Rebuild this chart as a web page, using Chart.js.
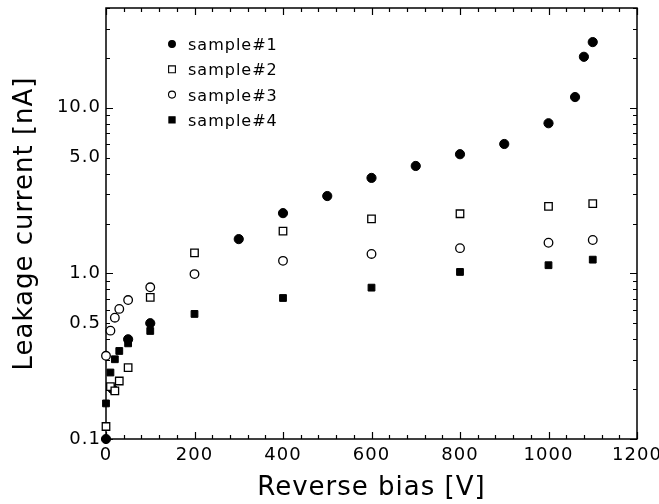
<!DOCTYPE html>
<html>
<head>
<meta charset="utf-8">
<script src="https://cdn.jsdelivr.net/npm/chart.js@4"></script>
<style>
    html, body { margin: 0; padding: 0; background: #fff; }
</style>
</head>
<body>
<canvas id="chart" width="659" height="504"></canvas>
<script>
// Values
const sample1Bias = [0, 15, 50, 100, 300, 400, 500, 600, 700, 800, 900, 1000, 1060, 1080, 1100];
const sample1Current = [0.10, 0.20, 0.40, 0.50, 1.61, 2.31, 2.93, 3.77, 4.45, 5.24, 6.04, 8.06, 11.6, 20.3, 24.9];
const bias = [0, 10, 20, 30, 50, 100, 200, 400, 600, 800, 1000, 1100];
const sample2Current = [0.119, 0.207, 0.195, 0.224, 0.270, 0.717, 1.33, 1.80, 2.13, 2.29, 2.54, 2.64];
const sample3Current = [0.318, 0.451, 0.540, 0.610, 0.690, 0.824, 0.99, 1.19, 1.31, 1.42, 1.53, 1.59];
const sample4Current = [0.164, 0.252, 0.303, 0.340, 0.378, 0.449, 0.569, 0.71, 0.82, 1.02, 1.12, 1.21];
const sampleNames = ['sample#1', 'sample#2', 'sample#3', 'sample#4'];
const xTickValues = [0, 200, 400, 600, 800, 1000, 1200];
const yTickValues = [0.1, 0.5, 1, 5, 10];
const xMinorStep = 40;

const FONT = '"DejaVu Sans", sans-serif';

function toPoints(xs, ys) {
    return xs.map((x, i) => ({ x: x, y: ys[i] }));
}

// frame with inward ticks on all four sides
const frameTicks = {
    id: 'frameTicks',
    beforeDatasetsDraw(chart) {
        const { ctx, chartArea: a, scales: { x, y } } = chart;
        ctx.save();
        ctx.strokeStyle = '#000';
        ctx.lineWidth = 1.5;
        ctx.strokeRect(a.left, a.top, a.right - a.left, a.bottom - a.top);
        ctx.lineWidth = 1.2;
        ctx.beginPath();
        for (let v = x.min; v <= x.max; v += xMinorStep) {
            const px = Math.round(x.getPixelForValue(v)) + 0.5;
            const len = v % 200 === 0 ? 7 : 4;
            ctx.moveTo(px, a.bottom); ctx.lineTo(px, a.bottom - len);
            ctx.moveTo(px, a.top); ctx.lineTo(px, a.top + len);
        }
        for (let d = 0.1; d < 100; d *= 10) {
            for (let m = 1; m <= 9; m++) {
                const v = m * d;
                if (v > y.max * 1.0001) continue;
                const py = Math.round(y.getPixelForValue(v)) + 0.5;
                const len = m === 1 ? 7 : 4;
                ctx.moveTo(a.left, py); ctx.lineTo(a.left + len, py);
                ctx.moveTo(a.right, py); ctx.lineTo(a.right - len, py);
            }
        }
        ctx.stroke();
        ctx.restore();
    }
};

// legend drawn inside the plot, top left
const insideLegend = {
    id: 'insideLegend',
    afterDraw(chart) {
        const { ctx, chartArea: a } = chart;
        ctx.save();
        ctx.font = '16px ' + FONT;
        ctx.textBaseline = 'middle';
        ctx.fillStyle = '#000';
        ctx.strokeStyle = '#000';
        ctx.lineWidth = 1.1;
        chart.data.datasets.forEach((ds, i) => {
            const mx = a.left + 66;
            const my = a.top + 36 + i * 25.3;
            ctx.beginPath();
            if (ds.pointStyle === 'circle') {
                ctx.arc(mx, my, ds.legendSize / 2, 0, Math.PI * 2);
            } else {
                const s = ds.legendSize;
                ctx.rect(mx - s / 2, my - s / 2, s, s);
            }
            ctx.fillStyle = ds.pointBackgroundColor;
            ctx.fill();
            ctx.stroke();
            ctx.fillStyle = '#000';
            ctx.fillText(ds.label, a.left + 82, my + 2);
        });
        ctx.restore();
    }
};

const spacing = {
    id: 'spacing',
    beforeDraw(chart) {
        chart.ctx.letterSpacing = '1px';
    }
};

new Chart(document.getElementById('chart'), {
    type: 'scatter',
    data: {
        datasets: [
            {
                label: sampleNames[0],
                data: toPoints(sample1Bias, sample1Current),
                pointStyle: 'circle', pointRadius: 4.6, legendSize: 6.8,
                pointBackgroundColor: '#000', pointBorderColor: '#000', pointBorderWidth: 1,
                clip: false, order: 4
            },
            {
                label: sampleNames[1],
                data: toPoints(bias, sample2Current),
                pointStyle: 'rect', pointRadius: 5.3, legendSize: 6.8,
                pointBackgroundColor: '#fff', pointBorderColor: '#000', pointBorderWidth: 1.3,
                clip: false, order: 3
            },
            {
                label: sampleNames[2],
                data: toPoints(bias, sample3Current),
                pointStyle: 'circle', pointRadius: 4.3, legendSize: 7,
                pointBackgroundColor: '#fff', pointBorderColor: '#000', pointBorderWidth: 1.3,
                clip: false, order: 2
            },
            {
                label: sampleNames[3],
                data: toPoints(bias, sample4Current),
                pointStyle: 'rect', pointRadius: 4.8, legendSize: 6.2,
                pointBackgroundColor: '#000', pointBorderColor: '#000', pointBorderWidth: 1,
                clip: false, order: 1
            }
        ]
    },
    options: {
        responsive: false,
        animation: false,
        devicePixelRatio: 1,
        layout: { padding: { left: 0, right: 22, top: 8, bottom: 0 } },
        plugins: {
            legend: { display: false },
            tooltip: { enabled: false }
        },
        scales: {
            x: {
                type: 'linear',
                min: 0,
                max: 1200,
                afterBuildTicks: s => { s.ticks = xTickValues.map(v => ({ value: v })); },
                afterFit: s => { s.height = 65; s.paddingLeft = 0; s.paddingRight = 0; },
                grid: { display: false, drawTicks: false },
                border: { display: false },
                ticks: {
                    color: '#000', padding: 6, maxRotation: 0, autoSkip: false,
                    font: { family: FONT, size: 18 },
                    callback: v => String(v)
                },
                title: {
                    display: true, text: 'Reverse bias [V]', color: '#000',
                    font: { family: FONT, size: 26 },
                    padding: { top: 0, bottom: 0 }
                }
            },
            y: {
                type: 'logarithmic',
                min: 0.1,
                max: 40,
                afterBuildTicks: s => { s.ticks = yTickValues.map(v => ({ value: v })); },
                afterFit: s => { s.width = 106; s.paddingTop = 0; s.paddingBottom = 0; },
                grid: { display: false, drawTicks: false },
                border: { display: false },
                ticks: {
                    color: '#000', padding: 5, autoSkip: false,
                    font: { family: FONT, size: 18 },
                    callback: v => Number(v).toFixed(1)
                },
                title: {
                    display: true, text: 'Leakage current [nA]', color: '#000',
                    font: { family: FONT, size: 26 },
                    padding: { top: 10, bottom: 0 }
                }
            }
        }
    },
    plugins: [spacing, frameTicks, insideLegend]
});
</script>
</body>
</html>
